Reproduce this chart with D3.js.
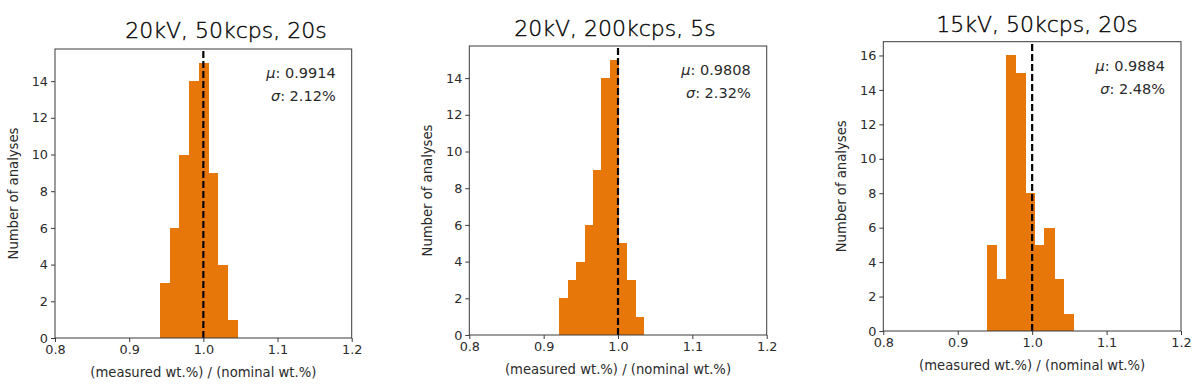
<!DOCTYPE html>
<html>
<head>
<meta charset="utf-8">
<script src="https://cdn.jsdelivr.net/npm/d3@7"></script>
<style>
  body { margin: 0; background: #fff; }
  svg { display: block; }
</style>
</head>
<body>
<svg id="chart" width="1200" height="388"></svg>
<script>
// ---- data ----
const titles = ["20kV, 50kcps, 20s", "20kV, 200kcps, 5s", "15kV, 50kcps, 20s"];
const muValues = ["0.9914", "0.9808", "0.9884"];
const sigmaValues = ["2.12%", "2.32%", "2.48%"];
const binStarts = [0.9419, 0.9211, 0.9390];
const binWidths = [0.01295, 0.01131, 0.01293];
const counts1 = [3, 6, 10, 14, 15, 9, 4, 1];
const counts2 = [2, 3, 4, 6, 9, 14, 15, 5, 3, 1];
const counts3 = [5, 3, 16, 15, 8, 5, 6, 3, 1];
const xTicks = [0.8, 0.9, 1.0, 1.1, 1.2];
const yTicks1 = [0, 2, 4, 6, 8, 10, 12, 14];
const yTicks2 = [0, 2, 4, 6, 8, 10, 12, 14];
const yTicks3 = [0, 2, 4, 6, 8, 10, 12, 14, 16];
const yMax = [15.75, 15.75, 16.8];
const xDomain = [0.8, 1.2];
const refValue = 1.0;
const xLabel = "(measured wt.%) / (nominal wt.%)";
const yLabel = "Number of analyses";

// ---- layout ----
const layout = [
  { left: 55, right: 351.7, top: 49, bottom: 338, titleX: 226, titleY: 38 },
  { left: 469.3, right: 766.7, top: 46, bottom: 335, titleX: 615, titleY: 36 },
  { left: 883.3, right: 1181, top: 41.7, bottom: 331, titleX: 1037, titleY: 31.7 }
];
const allCounts = [counts1, counts2, counts3];
const allYTicks = [yTicks1, yTicks2, yTicks3];
const barColor = "#e8770a";
const axisColor = "#3a3a3a";
const textColor = "#2a2a2a";
const tickFont = "'DejaVu Sans', sans-serif";

const svg = d3.select("#chart");

layout.forEach((L, i) => {
  const x = d3.scaleLinear().domain(xDomain).range([L.left, L.right]);
  const y = d3.scaleLinear().domain([0, yMax[i]]).range([L.bottom, L.top]);
  const g = svg.append("g");

  const bins = allCounts[i].map((c, k) => ({
    x0: binStarts[i] + k * binWidths[i],
    x1: binStarts[i] + (k + 1) * binWidths[i],
    c
  }));

  g.selectAll("rect.bar").data(bins).enter().append("rect")
    .attr("class", "bar")
    .attr("x", d => x(d.x0))
    .attr("width", d => x(d.x1) - x(d.x0) + 0.6)
    .attr("y", d => y(d.c))
    .attr("height", d => y(0) - y(d.c))
    .attr("fill", barColor)
    .attr("shape-rendering", "crispEdges");

  // dashed reference line
  g.append("line")
    .attr("x1", x(refValue)).attr("x2", x(refValue))
    .attr("y1", y(0)).attr("y2", y(yMax[i]))
    .attr("stroke", "#000")
    .attr("stroke-width", 2.2)
    .attr("stroke-dasharray", "7,3");

  // axes
  const xAxis = d3.axisBottom(x).tickValues(xTicks).tickFormat(d3.format(".1f")).tickSize(4).tickPadding(3);
  const yAxis = d3.axisLeft(y).tickValues(allYTicks[i]).tickFormat(d3.format("d")).tickSize(4).tickPadding(3);

  const gx = g.append("g").attr("transform", `translate(0,${L.bottom})`).call(xAxis);
  const gy = g.append("g").attr("transform", `translate(${L.left},0)`).call(yAxis);
  [gx, gy].forEach(a => {
    a.select(".domain").remove();
    a.selectAll(".tick line").attr("stroke", axisColor).attr("stroke-width", 1);
    a.selectAll(".tick text").attr("fill", textColor)
      .style("font-family", tickFont).style("font-size", "12.8px");
  });

  // frame
  g.append("rect")
    .attr("x", L.left).attr("y", L.top)
    .attr("width", L.right - L.left).attr("height", L.bottom - L.top)
    .attr("fill", "none").attr("stroke", axisColor).attr("stroke-width", 1);

  // title
  g.append("text")
    .attr("x", L.titleX).attr("y", L.titleY)
    .attr("text-anchor", "middle")
    .style("font-family", "'DejaVu Sans', sans-serif")
    .style("font-weight", 200)
    .style("font-size", "22px")
    .attr("fill", "#000")
    .attr("stroke", "#000")
    .attr("stroke-width", 0.35)
    .text(titles[i]);

  // x label
  g.append("text")
    .attr("x", (L.left + L.right) / 2).attr("y", L.bottom + 39)
    .attr("text-anchor", "middle")
    .style("font-family", tickFont).style("font-size", "13.2px")
    .attr("fill", textColor)
    .text(xLabel);

  // y label
  g.append("text")
    .attr("transform", `translate(${L.left - 37},${(L.top + L.bottom) / 2}) rotate(-90)`)
    .attr("text-anchor", "middle")
    .style("font-family", tickFont).style("font-size", "13.2px")
    .attr("fill", textColor)
    .text(yLabel);

  // annotation
  const ax = L.right - 16;
  const t1 = g.append("text").attr("x", ax).attr("y", L.top + 29)
    .attr("text-anchor", "end")
    .style("font-family", tickFont).style("font-size", "14.5px").attr("fill", textColor);
  t1.append("tspan").style("font-style", "italic").text("μ");
  t1.append("tspan").text(": " + muValues[i]);
  const t2 = g.append("text").attr("x", ax).attr("y", L.top + 52)
    .attr("text-anchor", "end")
    .style("font-family", tickFont).style("font-size", "14.5px").attr("fill", textColor);
  t2.append("tspan").style("font-style", "italic").text("σ");
  t2.append("tspan").text(": " + sigmaValues[i]);
});
</script>
</body>
</html>
